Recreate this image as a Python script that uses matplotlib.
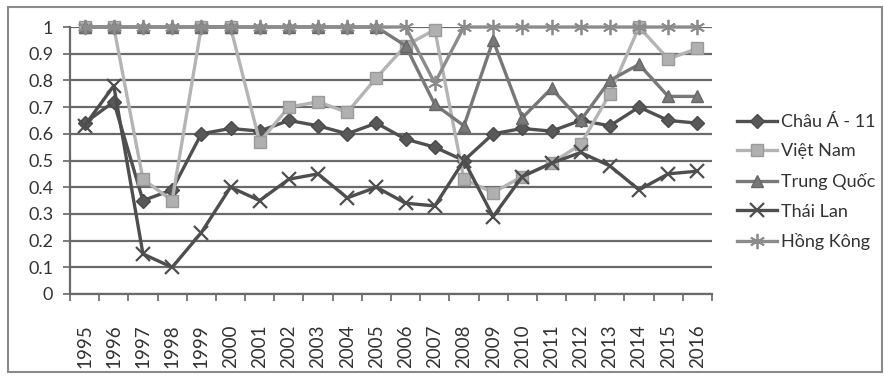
import matplotlib
matplotlib.use("Agg")
import matplotlib.pyplot as plt
from matplotlib.patches import Rectangle

years = [str(y) for y in range(1995, 2017)]

chau_a_11 = [0.64, 0.72, 0.35, 0.39, 0.60, 0.62, 0.61, 0.65, 0.63, 0.60, 0.64, 0.58,
             0.55, 0.50, 0.60, 0.62, 0.61, 0.65, 0.63, 0.70, 0.65, 0.64]
viet_nam = [1.00, 1.00, 0.43, 0.35, 1.00, 1.00, 0.57, 0.70, 0.72, 0.68, 0.81, 0.93,
            0.99, 0.43, 0.38, 0.44, 0.49, 0.56, 0.75, 1.00, 0.88, 0.92]
trung_quoc = [1.00, 1.00, 1.00, 1.00, 1.00, 1.00, 1.00, 1.00, 1.00, 1.00, 1.00, 0.93,
              0.71, 0.63, 0.95, 0.66, 0.77, 0.65, 0.80, 0.86, 0.74, 0.74]
thai_lan = [0.63, 0.78, 0.15, 0.10, 0.23, 0.40, 0.35, 0.43, 0.45, 0.36, 0.40, 0.34,
            0.33, 0.50, 0.29, 0.44, 0.49, 0.53, 0.48, 0.39, 0.45, 0.46]
hong_kong = [1.00, 1.00, 1.00, 1.00, 1.00, 1.00, 1.00, 1.00, 1.00, 1.00, 1.00, 1.00,
             0.79, 1.00, 1.00, 1.00, 1.00, 1.00, 1.00, 1.00, 1.00, 1.00]

series_names = ["Châu Á - 11", "Việt Nam", "Trung Quốc", "Thái Lan", "Hồng Kông"]
y_ticks = [0, 0.1, 0.2, 0.3, 0.4, 0.5, 0.6, 0.7, 0.8, 0.9, 1]
y_tick_labels = ["0", "0.1", "0.2", "0.3", "0.4", "0.5", "0.6", "0.7", "0.8", "0.9", "1"]

plt.rcParams["font.family"] = ["Lato", "DejaVu Sans"]

fig = plt.figure(figsize=(8.84, 3.76), dpi=100, facecolor="white")
ax = fig.add_axes([70 / 884, 1 - 294 / 376, (712 - 70) / 884, (294 - 27) / 376])

x = list(range(len(years)))
styles = [
    dict(color="#505050", marker="D", markersize=7, mfc="#585858", mec="#4a4a4a"),
    dict(color="#b4b4b4", marker="s", markersize=9, mfc="#b0b0b0", mec="#9a9a9a"),
    dict(color="#787878", marker="^", markersize=9, mfc="#787878", mec="#686868"),
    dict(color="#4e4e4e", marker="x", markersize=10, mfc="#4e4e4e", mec="#4e4e4e", mew=1.6),
    dict(color="#8c8c8c", marker=(6, 2, 0), markersize=11, mfc="#8c8c8c", mec="#8c8c8c", mew=1.3),
]
for vals, name, st in zip([chau_a_11, viet_nam, trung_quoc, thai_lan, hong_kong],
                          series_names, styles):
    ax.plot(x, vals, label=name, lw=2.4, clip_on=False, zorder=3, **st)

ax.set_xlim(-0.5, len(years) - 0.5)
ax.set_ylim(0, 1)

ax.set_yticks(y_ticks)
ax.set_yticklabels(y_tick_labels, fontsize=13, color="#333333")
ax.set_xticks(x)
ax.set_xticklabels(years, rotation=90, fontsize=13.5, color="#333333")
ax.set_xticks([i - 0.5 for i in range(len(years) + 1)], minor=True)

ax.tick_params(axis="x", which="major", length=0, pad=22)
ax.tick_params(axis="x", which="minor", length=5, width=1.2, color="#666666", direction="out")
ax.tick_params(axis="y", which="major", length=5, width=1.2, color="#666666", pad=7)

ax.grid(axis="y", color="#6a6a6a", lw=1.6, zorder=0)
ax.set_axisbelow(True)
for side in ["top", "right"]:
    ax.spines[side].set_visible(False)
for side in ["left", "bottom"]:
    ax.spines[side].set_color("#6a6a6a")
    ax.spines[side].set_linewidth(1.6)

leg = ax.legend(loc="center left", bbox_to_anchor=(737 / 884, 1 - 182 / 376),
                bbox_transform=fig.transFigure, frameon=False, fontsize=13,
                borderpad=0, borderaxespad=0, handlelength=2.2, handletextpad=0.25,
                labelspacing=0.75)
for t in leg.get_texts():
    t.set_color("#333333")

fig.patches.append(Rectangle((8 / 884, 1 - 372 / 376), (882 - 8) / 884, (372 - 7) / 376,
                             transform=fig.transFigure, fill=False, ec="#8a8a8a", lw=1.5))

fig.savefig("out.png", dpi=100, facecolor="white")
